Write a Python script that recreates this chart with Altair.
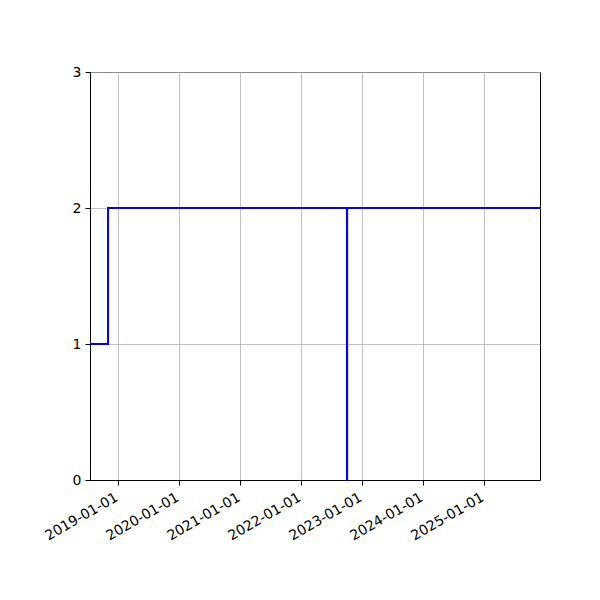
import altair as alt
import pandas as pd

dates = ["2018-07-17", "2018-11-02", "2022-10-03", "2022-10-04", "2025-12-02"]
values = [1, 2, 0, 2, 2]
tick_years = [2019, 2020, 2021, 2022, 2023, 2024, 2025]

df = pd.DataFrame({"date": dates, "value": values})

x_ticks = [alt.DateTime(year=y, month=1, date=1, utc=True) for y in tick_years]

chart = alt.Chart(df).mark_line(
    interpolate="step-after", color="#0000ff", strokeWidth=2
).encode(
    x=alt.X(
        "date:T",
        scale=alt.Scale(
            type="utc",
            domain=[alt.DateTime(year=2018, month=7, date=17, utc=True),
                    alt.DateTime(year=2025, month=12, date=2, utc=True)],
            nice=False,
        ),
        axis=alt.Axis(
            values=x_ticks,
            format="%Y-%m-%d",
            title=None,
            labelAngle=330,
            labelAlign="right",
            labelBaseline="top",
            labelPadding=5,
            labelOffset=-5,
            labelOverlap=False,
            labelBound=False,
            labelFlush=False,
        ),
    ),
    y=alt.Y(
        "value:Q",
        scale=alt.Scale(domain=[0, 3], nice=False),
        axis=alt.Axis(values=[0, 1, 2, 3], format="d", title=None, labelPadding=4),
    ),
).properties(
    width=450,
    height=408,
    autosize=alt.AutoSizeParams(type="none"),
    padding={"left": 82, "top": 64, "right": 50, "bottom": 112},
).configure_view(
    stroke="black", strokeWidth=1
).configure_axis(
    grid=True,
    gridColor="#b0b0b0",
    gridWidth=0.8,
    domainColor="black",
    domainWidth=1,
    tickColor="black",
    tickSize=5,
    tickWidth=1,
    labelColor="black",
    labelFont="DejaVu Sans",
    labelFontSize=14,
)

chart.save("out.html", embed_options={"renderer": "svg", "actions": False})
